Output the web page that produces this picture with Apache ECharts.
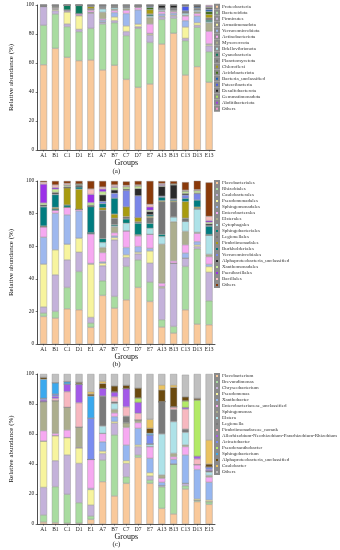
<!DOCTYPE html>
<html><head><meta charset="utf-8">
<script src="https://cdn.jsdelivr.net/npm/echarts@6/dist/echarts.min.js"></script>
<style>html,body{margin:0;padding:0;background:#fff}#c{width:340px;height:550px}</style>
</head><body><div id="c"></div>
<script>
const categories = ['A1','B1','C1','D1','E1','A7','B7','C7','D7','E7','A13','B13','C13','D13','E13'];
const yTicks = [0, 20, 40, 60, 80, 100];

// (a) phylum level
const phylumNames = ['Proteobacteria','Bacteroidota','Firmicutes','Armatimonadota','Verrucomicrobiota','Actinobacteriota','Myxococcota','Bdellovibrionota','Cyanobacteria','Planctomycetota','Chloroflexi','Acidobacteriota','Bacteria_unclassified','Patescibacteria','Desulfobacterota','Gemmatimonadota','Abditibacteriota','Others'];
const phylumValues = [
  [58.8,70.1,63.9,61.6,62.1,55.2,58.4,48.7,43.2,45.5,73.1,80.5,51.7,57.5,46.7],
  [27.2,23.7,21.2,20.0,21.8,31.7,29.4,30.2,40.7,28.7,17.0,10.3,23.7,27.1,21.1],
  [12.9,2.3,1.8,1.6,10.4,1.1,1.4,2.8,1.1,5.0,1.8,1.6,1.6,1.4,4.1],
  [0.1,0.8,8.3,9.4,0.4,0.3,2.6,3.9,1.8,0.8,0.5,0.6,7.8,1.8,0.9],
  [0.1,0.3,0.3,0.2,0.3,1.2,3.0,8.5,9.8,0.4,1.5,1.4,4.4,4.6,0.4],
  [0.2,0.5,0.7,1.1,1.4,1.0,1.5,2.3,1.6,6.5,1.6,1.0,3.2,1.8,8.7],
  [0.1,0.8,0.2,0.2,0.5,4.5,0.8,1.2,0.4,4.5,0.6,0.8,0.6,1.2,5.7],
  [0.1,0.2,0.2,0,0.3,2.4,1.2,0.6,0.3,1.0,0.9,0.4,1.5,1.2,0.8],
  [0,0.1,3.2,5.5,0,0.2,0,0,0,1.0,0,0,0,0,1.2],
  [0.1,0.2,0,0.2,0.3,0.8,0.4,0.5,0.2,0.4,0.5,0.9,0.8,1.0,1.5],
  [0,0.2,0,0,1.5,0.3,0.3,0.3,0,3.0,0,0.2,0.2,0.3,2.4],
  [0,0.1,0,0,0.3,0,0,0,0,1.5,0,0,0,0,2.0],
  [0.1,0.1,0,0,0,0.5,0.3,0.4,0.3,0.8,0.4,0.3,0.4,0.8,1.2],
  [0,0,0,0,0,0,0,0,0,0,0,0,3.2,0,0.6],
  [0.3,0.6,0.2,0.2,0.7,0.8,0.7,0.6,0.6,0.9,2.1,2.0,0.9,1.3,1.0],
  [0,0,0,0,0,0,0,0,0,0,0,0,0,0,0.5],
  [0,0,0,0,0,0,0,0,0,0,0,0,0,0,0.6],
  [0,0,0,0,0,0,0,0,0,0,0,0,0,0,0.6]
];

// (b) order level
const orderNames = ['Flavobacteriales','Rhizobiales','Caulobacterales','Pseudomonadales','Sphingomonadales','Enterobacterales','Elsterales','Cytophagales','Sphingobacteriales','Legionellales','Fimbriimonadales','Burkholderiales','Verrucomicrobiales','Alphaproteobacteria_unclassified','Xanthomonadales','Paenibacillales','Bacillales','Others'];
const orderValues = [
  [16.9,15.9,21.6,21.0,10.2,29.8,22.0,27.1,34.7,26.1,10.4,6.7,21.0,12.2,11.8],
  [2.1,4.1,13.1,23.5,2.7,9.0,7.2,20.5,16.9,11.9,4.5,4.1,26.6,46.2,14.7],
  [3.7,22.4,16.9,11.8,3.4,9.2,34.7,5.5,3.7,11.6,19.4,38.8,5.1,1.4,17.5],
  [26.3,15.4,9.6,8.6,32.7,1.6,1.4,1.6,1.0,7.5,0.6,0,0,1.0,3.5],
  [16.5,22.4,18.0,16.7,0.4,0.8,1.0,4.5,3.5,1.6,0.4,0,3.1,2.0,1.4],
  [6.5,2.0,4.7,1.0,18.3,5.7,2.0,10.2,6.5,8.6,2.0,1.4,5.1,5.1,4.7],
  [0,0,0,0,0,3.1,3.5,0,0.8,0,23.9,24.0,8.2,0.6,1.4],
  [0,0,0,0,0,3.1,0.6,4.7,0,3.7,4.7,3.0,6.1,14.3,11.8],
  [0,0.8,1.4,0,0.6,2.4,0.8,2.6,7.0,3.0,1.4,0,0,0,0],
  [0,0,0,0,0,17.4,4.0,1.4,0.8,3.5,20.0,9.2,2.0,0.4,0],
  [0.4,0.8,10.6,12.4,0,1.5,2.5,6.1,2.7,0.8,0.6,0.6,10.2,0.8,0.4],
  [11.7,7.8,0,1.4,16.0,2.5,9.8,0,0,1.0,2.2,0.6,2.0,4.3,5.1],
  [0.4,0.4,0,0,0,1.4,3.0,10.0,13.3,0,0.6,0.6,2.0,4.0,0.4],
  [0.8,1.0,0.6,1.0,0.8,4.0,2.0,0.8,4.5,2.0,6.0,8.6,1.0,0.4,1.0],
  [1.2,2.0,1.0,0.8,1.6,2.0,1.6,1.5,1.6,0.8,0.6,0.6,1.4,1.4,1.0],
  [11.6,1.0,0,0,5.1,1.6,0.5,0,0,2.0,0.6,0,0,0,1.0],
  [1.2,1.6,1.0,0,3.3,1.2,1.0,0.8,0.6,1.6,0.6,0,0.6,0.6,2.6],
  [0.8,2.4,1.5,1.8,4.9,3.7,2.4,2.4,2.4,14.3,1.4,1.7,4.9,5.5,20.8]
];

// (c) genus level
const genusNames = ['Flavobacterium','Brevundimonas','Chryseobacterium','Pseudomonas','Xanthobacter','Enterobacteriaceae_unclassified','Sphingomonas','Elstera','Legionella','Fimbriimonadaceae_norank','Allorhizobium-Neorhizobium-Pararhizobium-Rhizobium','Acinetobacter','Pseudoxanthobacter','Sphingobacterium','Alphaproteobacteria_unclassified','Caulobacter','Others'];
const genusValues = [
  [1.3,0.9,0.5,0.5,3.1,28.2,18.7,27.1,44.4,27.1,10.4,6.7,23.3,14.9,13.1],
  [4.7,24.0,19.3,13.7,2.2,14.4,40.7,4.4,1.6,2.2,14.4,33.3,2.2,0.9,1.8],
  [18.4,17.3,26.2,26.2,7.3,4.4,7.8,8.9,5.6,2.7,0.8,0,1.6,0,0],
  [30.9,16.7,11.6,10.4,10.4,1.6,1.1,1.8,1.1,2.2,0,0,0,0.9,1.1],
  [0,0,0,0,0.7,6.2,3.3,10.4,11.1,9.6,2.2,3.1,18.9,19.6,11.8],
  [6.9,1.5,5.1,0.5,19.3,5.6,2.5,11.8,3.8,7.8,2.7,1.8,5.6,3.3,3.5],
  [19.4,21.8,15.1,13.3,0,0,2.3,3.1,1.8,0,2.2,2.2,1.1,0,1.1],
  [0,0,0,0,0,4.9,4.0,0,0,1.8,27.3,21.1,8.4,0,2.2],
  [0,0,0,0,0,20.0,1.1,4.4,0,0,21.6,8.2,2.2,0,0.9],
  [0,1.5,10.4,16.2,0,0,3.3,6.2,4.4,0,0,1.8,13.3,3.8,0],
  [1.1,1.5,5.1,12.2,0,5.1,3.3,12.2,7.3,0,0,0,1.1,1.8,0.9],
  [1.1,1.4,0,0,27.6,0,0,0,0,6.0,0,0,0,0,1.6],
  [0,0,0,0,0,0,0,0,2.9,0,0,0,4.4,37.5,0],
  [12.7,7.6,1.6,0.4,14.7,0,0,0,0,1.1,0,0,0,0,0],
  [1.3,0,0,1.1,1.3,3.3,4.0,2.2,6.7,3.3,7.8,12.9,2.7,1.1,2.0],
  [0,0,0,0,1.6,1.5,0,0,0,6.0,3.3,1.6,0,0,16.0],
  [2.2,5.8,5.1,5.5,11.8,4.8,7.9,7.5,9.3,30.2,7.3,7.3,14.7,16.2,44.0]
];

// styles
const colorsA = ['#F9C99B','#A9DCA0','#C4B2DA','#F7F49E','#9EB8EE','#F6A9F1','#ACAE8E','#AEE2E8','#0A7A5C','#6E6E6E','#A89B10','#3D6E14','#1860B8','#4A5AE8','#222222','#A8E05A','#A040E0','#F090C8'];
const colorsB = ['#F9C99B','#A9DCA0','#C4B2DA','#F7F49E','#9EB8EE','#F6A9F1','#ACAE8E','#AEE2E8','#00807A','#777777','#A89B10','#007C80','#7A86E8','#2A2A2A','#C4E894','#9B30E8','#F6BDBD','#8A3A0A'];
const colorsC = ['#F9C99B','#A9DCA0','#C4B2DA','#F7F49E','#96B6F0','#F6A9F1','#ACAE8E','#AEE2E8','#7A7A7A','#F7B8C0','#A35AE8','#7A8CF0','#B2EA66','#3AA9EE','#6B4A0F','#EAC261','#C0C0C0'];

const FONT = 'Liberation Serif';
const panels = [
  {key:'a', names:phylumNames, values:phylumValues, colors:colorsA, top:5, height:145, legendTop:3.8, nameGap:8, tag:'(a)', tagY:172},
  {key:'b', names:orderNames, values:orderValues, colors:colorsB, top:181, height:163, legendTop:180, nameGap:8, tag:'(b)', tagY:365},
  {key:'c', names:genusNames, values:genusValues, colors:colorsC, top:374, height:150, legendTop:373, nameGap:8, tag:'(c)', tagY:545}
];

const grid = [], xAxis = [], yAxis = [], series = [], legend = [], graphic = [];
panels.forEach((p, i) => {
  grid.push({left:20, top:p.top, width:195, height:p.height, containLabel:false});
  xAxis.push({
    type:'category', gridIndex:i, data:categories,
    name:'Groups', nameLocation:'middle', nameGap:p.nameGap,
    nameTextStyle:{fontFamily:FONT, fontSize:8, color:'#111'},
    axisLine:{lineStyle:{color:'#222', width:0.8}},
    axisTick:{show:true, alignWithLabel:true, length:1.5, lineStyle:{color:'#222', width:0.6}},
    axisLabel:{fontFamily:FONT, fontSize:5.5, color:'#222', margin:2.5, interval:0}
  });
  yAxis.push({
    type:'value', gridIndex:i, min:yTicks[0], max:yTicks[yTicks.length-1], interval:20,
    name:'Relative abundance (%)', nameLocation:'middle', nameGap:13,
    nameTextStyle:{fontFamily:FONT, fontSize:7, color:'#111'},
    axisLine:{show:true, lineStyle:{color:'#222', width:0.8}},
    axisTick:{show:true, length:2, lineStyle:{color:'#222', width:0.6}},
    splitLine:{show:false},
    axisLabel:{fontFamily:FONT, fontSize:5.5, color:'#222', margin:3.5}
  });
  p.names.forEach((n, j) => {
    series.push({
      type:'bar', name:p.key + '|' + n, xAxisIndex:i, yAxisIndex:i, stack:'s' + p.key,
      barWidth:7, data:p.values[j],
      itemStyle:{color:p.colors[j], borderColor:'#8a8a8a', borderWidth:0.4},
      emphasis:{disabled:true}
    });
  });
  legend.push({
    orient:'vertical', left:214, top:p.legendTop, padding:0, itemGap:0,
    itemWidth:4, itemHeight:4, icon:'rect',
    data:p.names.map(n => p.key + '|' + n),
    formatter:name => name.slice(2),
    textStyle:{fontFamily:FONT, fontSize:5, color:'#333', lineHeight:5.9, padding:[0,0,0,-2]},
    selectedMode:false
  });
  graphic.push({type:'text', left:117.5 - 5, top:p.tagY - 4,
    style:{text:p.tag, font:'7px "Liberation Serif"', fill:'#111'}});
});

const chart = echarts.init(document.getElementById('c'), null, {renderer:'canvas'});
chart.setOption({animation:false, backgroundColor:'#fff', grid, xAxis, yAxis, series, legend, graphic});
</script>
</body></html>
